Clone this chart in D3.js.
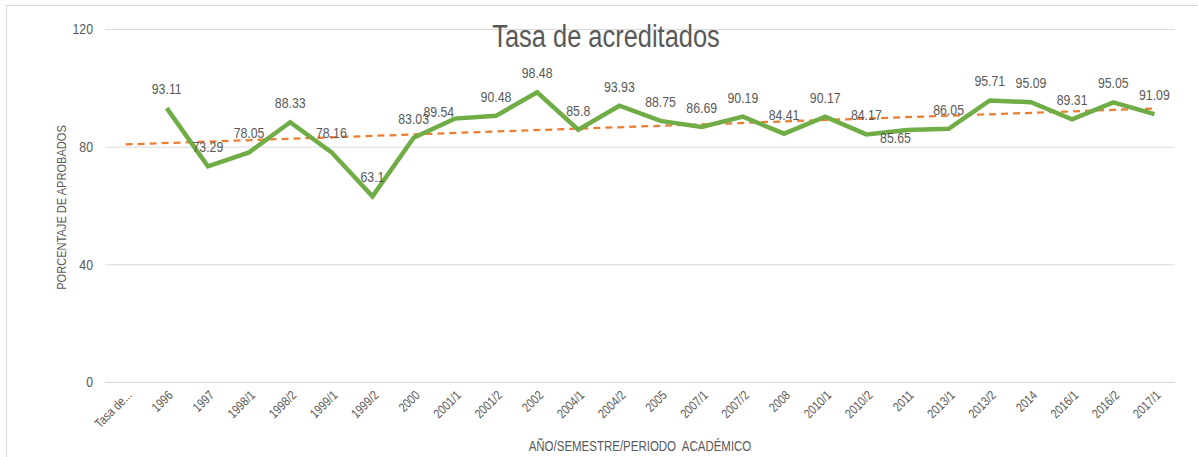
<!DOCTYPE html>
<html>
<head>
<meta charset="utf-8">
<script src="https://cdn.jsdelivr.net/npm/d3@7"></script>
<style>
  html, body { margin: 0; padding: 0; background: #fff; }
  svg text { font-family: "Liberation Sans", Arial, sans-serif; fill: #595959; }
</style>
</head>
<body>
<div id="chart"></div>
<script>
// categorías del eje X
const categories = ['Tasa de...', '1996', '1997', '1998/1', '1998/2', '1999/1', '1999/2', '2000',
    '2001/1', '2001/2', '2002', '2004/1', '2004/2', '2005', '2007/1', '2007/2', '2008',
    '2010/1', '2010/2', '2011', '2013/1', '2013/2', '2014', '2016/1', '2016/2', '2017/1'];

// tasa de acreditados (la primera categoría no tiene valor)
const values = [null, 93.11, 73.29, 78.05, 88.33, 78.16, 63.1, 83.03, 89.54, 90.48, 98.48,
    85.8, 93.93, 88.75, 86.69, 90.19, 84.41, 90.17, 84.17, 85.65, 86.05, 95.71, 95.09,
    89.31, 95.05, 91.09];

const yTicks = [0, 40, 80, 120];

// pequeños ajustes manuales de etiquetas
const labelNudge = { '2001/1': [-16, 12], '2011': [-12, 27] };

const W = 1198, H = 457;
const margin = { top: 29, right: 23, bottom: 75, left: 105 };
const width = W - margin.left - margin.right;
const height = H - margin.top - margin.bottom;

// estrecha el texto (tipo Arial Narrow)
function narrow(sel, k = 0.82) {
    sel.each(function () {
        const w = this.getComputedTextLength();
        d3.select(this).attr('textLength', w * k).attr('lengthAdjust', 'spacingAndGlyphs');
    });
}

const svg = d3.select('#chart').append('svg')
    .attr('width', W).attr('height', H);

// marco del gráfico
svg.append('rect')
    .attr('x', 6.5).attr('y', 5.5)
    .attr('width', W + 10).attr('height', H + 10)
    .attr('fill', 'none').attr('stroke', '#d9d9d9');

const g = svg.append('g').attr('transform', `translate(${margin.left},${margin.top})`);

const x = d3.scaleBand().domain(categories).range([0, width]);
const y = d3.scaleLinear().domain([0, 120]).range([height, 0]);
const cx = d => x(d) + x.bandwidth() / 2;

// líneas de cuadrícula
g.append('g')
    .attr('class', 'grid')
    .call(d3.axisLeft(y).tickValues(yTicks).tickSize(-width).tickFormat(d => d).tickPadding(12))
    .call(s => s.select('.domain').remove())
    .call(s => s.selectAll('.tick line').attr('stroke', '#d9d9d9'))
    .call(s => s.selectAll('.tick text').style('font-size', '15px').attr('fill', '#595959').call(narrow));

// eje X
g.append('g')
    .attr('transform', `translate(0,${height})`)
    .call(d3.axisBottom(x).tickSize(0).tickPadding(0))
    .call(s => s.select('.domain').remove())
    .call(s => s.selectAll('.tick text')
        .style('font-size', '13px')
        .attr('fill', '#595959')
        .attr('text-anchor', 'end')
        .attr('dy', 0)
        .attr('transform', 'translate(7,14) rotate(-45)')
        .call(narrow));

// línea de tendencia (regresión lineal)
const pts = values.map((v, i) => [i, v]).filter(p => p[1] != null);
const mx = d3.mean(pts, p => p[0]), my = d3.mean(pts, p => p[1]);
const slope = d3.sum(pts, p => (p[0] - mx) * (p[1] - my)) / d3.sum(pts, p => (p[0] - mx) ** 2);
const trend = i => my + slope * (i - mx);
const first = 0, last = categories.length - 1;

g.append('line')
    .attr('x1', cx(categories[first])).attr('y1', y(trend(first)))
    .attr('x2', cx(categories[last])).attr('y2', y(trend(last)))
    .attr('stroke', '#ed7d31').attr('stroke-width', 2.25)
    .attr('stroke-dasharray', '7,5');

// serie principal
const data = categories.map((c, i) => ({ c, v: values[i] })).filter(d => d.v != null);

g.append('path')
    .datum(data)
    .attr('fill', 'none')
    .attr('stroke', '#70ad47')
    .attr('stroke-width', 4.5)
    .attr('stroke-linejoin', 'miter')
    .attr('d', d3.line().x(d => cx(d.c)).y(d => y(d.v)));

// etiquetas de datos
g.selectAll('.lbl')
    .data(data)
    .enter().append('text')
    .attr('class', 'lbl')
    .attr('x', d => cx(d.c) + (labelNudge[d.c] ? labelNudge[d.c][0] : 0))
    .attr('y', d => y(d.v) - 14 + (labelNudge[d.c] ? labelNudge[d.c][1] : 0))
    .attr('text-anchor', 'middle')
    .style('font-size', '15px')
    .text(d => d.v)
    .call(narrow);

// títulos
svg.append('text')
    .attr('x', 606).attr('y', 47)
    .attr('text-anchor', 'middle')
    .style('font-size', '31px')
    .text('Tasa de acreditados')
    .call(narrow);

svg.append('text')
    .attr('transform', `translate(66,${margin.top + height / 2 + 2}) rotate(-90)`)
    .attr('text-anchor', 'middle')
    .style('font-size', '13.5px')
    .text('PORCENTAJE DE APROBADOS')
    .call(narrow);

svg.append('text')
    .attr('x', 640).attr('y', 451)
    .attr('text-anchor', 'middle')
    .style('font-size', '14px')
    .style('white-space', 'pre')
    .text('AÑO/SEMESTRE/PERIODO  ACADÉMICO')
    .call(narrow);
</script>
</body>
</html>
